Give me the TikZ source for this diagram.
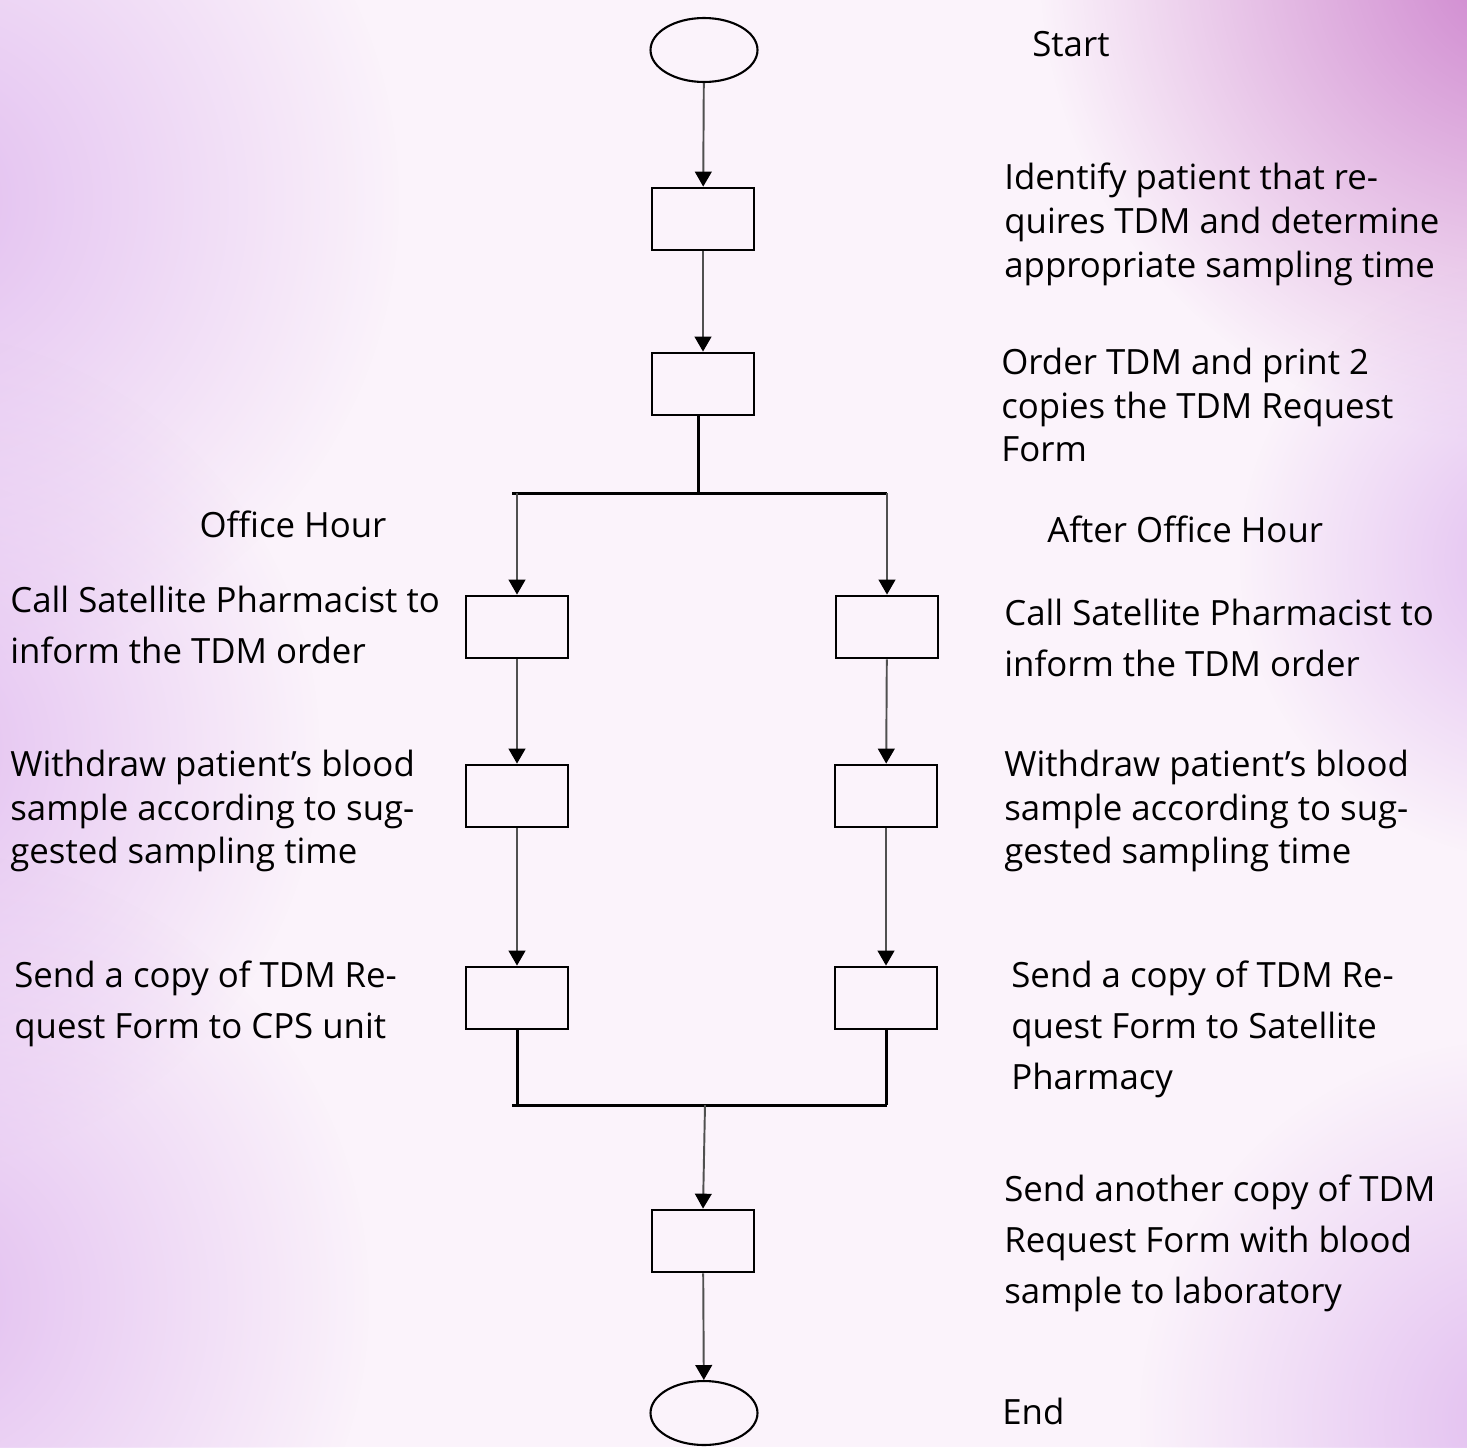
\documentclass[tikz,border=0pt]{standalone}
\usepackage{fontspec}
\setmainfont{Open Sans}
\usetikzlibrary{arrows.meta,positioning,shapes.geometric,fadings}

\definecolor{bgpink}{RGB}{251,243,251}
\definecolor{bglilac}{RGB}{226,190,240}
\definecolor{bgmagenta}{RGB}{205,130,205}
\definecolor{linegray}{RGB}{80,80,80}

\tikzfading[name=softglow, inner color=transparent!0, outer color=transparent!100]

\tikzset{
  stepbox/.style={draw=black, line width=1.6pt, rectangle,
    minimum width=2.04cm, minimum height=1.24cm, inner sep=0pt},
  terminal/.style={draw=black, line width=1.2pt, ellipse,
    minimum width=2.14cm, minimum height=1.28cm, inner sep=0pt},
  flow/.style={draw=linegray, line width=1.1pt,
    -{Triangle[width=9.5pt, length=8.5pt, color=black]}},
  bar/.style={draw=black, line width=1.7pt},
  glow/.style={path fading=softglow},
  note/.style={anchor=west, align=left, inner sep=0pt,
    font=\fontsize{19.8}{25}\selectfont},
  widenote/.style={note, font=\fontsize{19.8}{29}\selectfont},
}

\begin{document}
\begin{tikzpicture}[x=0.02cm, y=-0.02cm]
% background
\begin{scope}
\clip (0,0) rectangle (1467,1447);
\fill[bgpink] (0,0) rectangle (1467,1447);
\fill[bglilac, glow] (-80,200) circle (480);
\fill[bglilac, glow] (-100,750) circle (420);
\fill[bglilac, glow] (-80,1300) circle (450);
\fill[bgmagenta, glow] (1520,-40) circle (480);
\fill[bglilac, glow] (1540,560) circle (300);
\fill[bglilac, glow] (1520,1420) circle (380);
\end{scope}
\useasboundingbox (0,0) rectangle (1467,1447);

% main column
\node[terminal] (start) at (704,50) {};
\node[stepbox] (identify) at (703,219) {};
\node[stepbox] (order) at (703,384) {};
\node[stepbox] (lab) at (703,1241) {};
\node[terminal] (end) at (704,1413) {};

% office hour branch
\node[stepbox] (callL) at (517,627) {};
\node[stepbox] (drawL) at (517,796) {};
\node[stepbox] (sendL) at (517,998) {};

% after office hour branch
\node[stepbox] (callR) at (887,627) {};
\node[stepbox] (drawR) at (886,796) {};
\node[stepbox] (sendR) at (886,998) {};

\coordinate (split) at (698,493);
\coordinate (splitL) at (512,493);
\coordinate (splitR) at (887,493);
\coordinate (merge) at (705,1105);
\coordinate (mergeL) at (512,1105);
\coordinate (mergeR) at (887,1105);

% connectors
\draw[flow] (start) -- (identify);
\draw[flow] (identify) -- (order);
\draw[bar] (order.south -| split) -- (split);
\draw[bar] (splitL) -- (splitR);
\draw[flow] (callL.north |- split) -- (callL.north);
\draw[flow] (callR.north |- split) -- (callR.north);
\draw[flow] (callL) -- (drawL);
\draw[flow] (drawL) -- (sendL);
\draw[flow] (callR) -- (drawR);
\draw[flow] (drawR) -- (sendR);
\draw[bar] (sendL.south) -- (sendL.south |- merge);
\draw[bar] (sendR.south) -- (sendR.south |- merge);
\draw[bar] (mergeL) -- (mergeR);
\draw[flow] (merge) -- (lab.north);
\draw[flow] (lab) -- (end);

% texts
\node[note] (tStart) at (1032,44) {Start};
\node[note] (tIdentify) at (1004,224) {Identify patient that re-\\quires TDM and determine\\appropriate sampling time};
\node[note] (tOrder) at (1001,405) {Order TDM and print 2\\copies the TDM Request\\Form};
\node[note, anchor=center] (tOffice) at (293,524) {Office Hour};
\node[note] (tAfter) at (1047,529) {After Office Hour};
\node[widenote] (tCallL) at (10,625) {Call Satellite Pharmacist to\\inform the TDM order};
\node[widenote] (tCallR) at (1004,638) {Call Satellite Pharmacist to\\inform the TDM order};
\node[note] (tDrawL) at (10,811) {Withdraw patient’s blood\\sample according to sug-\\gested sampling time};
\node[note] (tDrawR) at (1004,811) {Withdraw patient’s blood\\sample according to sug-\\gested sampling time};
\node[widenote] (tSendL) at (14,1004) {Send a copy of TDM Re-\\quest Form to CPS unit};
\node[widenote] (tSendR) at (1011,1029) {Send a copy of TDM Re-\\quest Form to Satellite\\Pharmacy};
\node[widenote] (tLab) at (1004,1243) {Send another copy of TDM\\Request Form with blood\\sample to laboratory};
\node[note] (tEnd) at (1002,1411) {End};
\end{tikzpicture}
\end{document}
